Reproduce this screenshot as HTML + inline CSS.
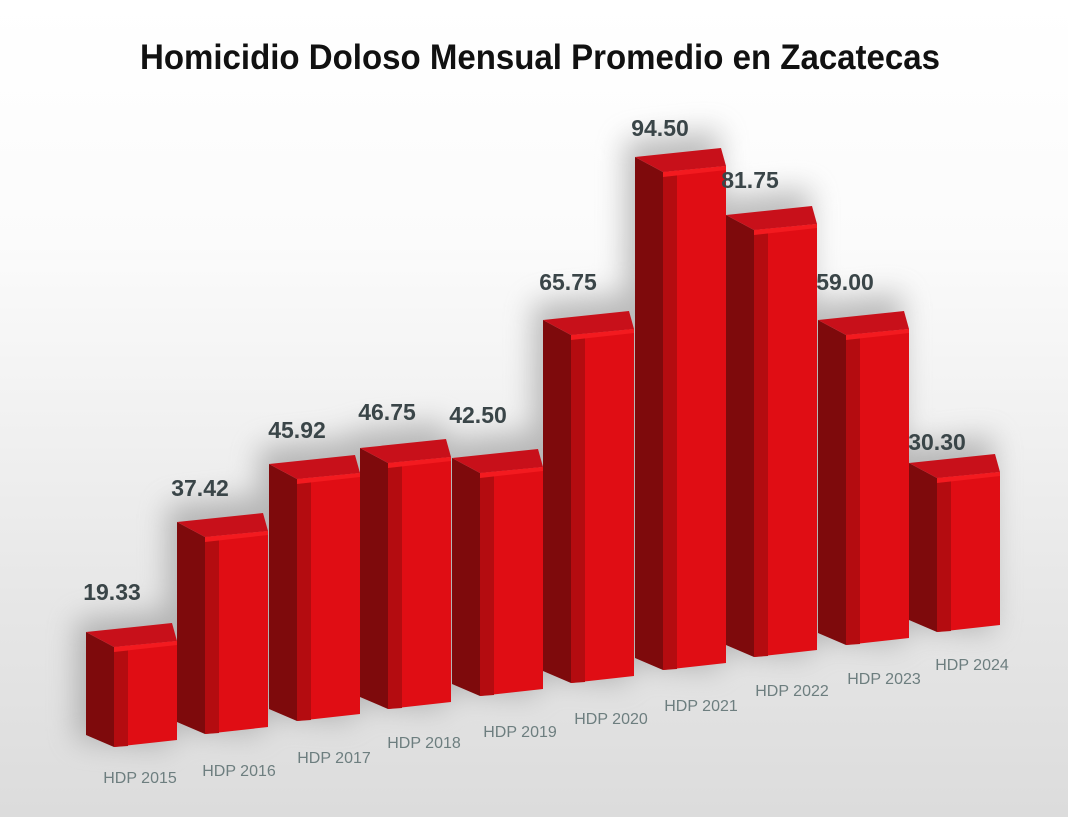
<!DOCTYPE html>
<html><head><meta charset="utf-8"><style>
html,body{margin:0;padding:0}
body{width:1068px;height:817px;overflow:hidden;background:linear-gradient(#ffffff 0%,#fbfbfb 30%,#e6e6e6 75%,#dcdcdc 100%);font-family:"Liberation Sans",sans-serif}
</style></head><body>
<svg width="1068" height="817" viewBox="0 0 1068 817" xmlns="http://www.w3.org/2000/svg">
<defs>
<filter id="bl" x="-50%" y="-50%" width="200%" height="200%"><feGaussianBlur stdDeviation="14"/></filter>
</defs>
<text x="540" y="69" text-anchor="middle" font-family="Liberation Sans, sans-serif" font-weight="bold" font-size="35" fill="#111" textLength="800" lengthAdjust="spacingAndGlyphs">Homicidio Doloso Mensual Promedio en Zacatecas</text>
<g filter="url(#bl)" fill="#8a8a8a" opacity="0.55">
<polygon points="76,620 170,610 170,747 76,740"/>
<polygon points="167,505 261,495 261,734 167,727"/>
<polygon points="259,447 353,437 353,721 259,714"/>
<polygon points="350,431 444,421 444,709 350,702"/>
<polygon points="442,441 536,431 536,696 442,689"/>
<polygon points="533,303 627,293 627,683 533,676"/>
<polygon points="625,140 719,130 719,670 625,663"/>
<polygon points="716,198 810,188 810,657 716,650"/>
<polygon points="808,303 902,293 902,645 808,638"/>
<polygon points="899,446 993,436 993,632 899,625"/>
</g>
<g stroke-linejoin="round">
<g><polygon fill="#7e0a0c" points="86,632 114,647 114,747 86,735"/><polygon fill="#c8101a" points="86,632 114,647 177,641 172,623"/><polygon fill="#e00d14" points="114,647 177,641 177,740 114,747"/><polygon fill="#b40c10" points="114,647 128,646 128,746 114,747"/><polygon fill="#f31a1f" points="114,647 177,641 177,645 114,652"/></g>
<g><polygon fill="#7e0a0c" points="177,522 205,537 205,734 177,722"/><polygon fill="#c8101a" points="177,522 205,537 268,531 263,513"/><polygon fill="#e00d14" points="205,537 268,531 268,727 205,734"/><polygon fill="#b40c10" points="205,537 219,536 219,733 205,734"/><polygon fill="#f31a1f" points="205,537 268,531 268,535 205,542"/></g>
<g><polygon fill="#7e0a0c" points="269,464 297,479 297,721 269,709"/><polygon fill="#c8101a" points="269,464 297,479 360,473 355,455"/><polygon fill="#e00d14" points="297,479 360,473 360,714 297,721"/><polygon fill="#b40c10" points="297,479 311,478 311,720 297,721"/><polygon fill="#f31a1f" points="297,479 360,473 360,477 297,484"/></g>
<g><polygon fill="#7e0a0c" points="360,448 388,463 388,709 360,697"/><polygon fill="#c8101a" points="360,448 388,463 451,457 446,439"/><polygon fill="#e00d14" points="388,463 451,457 451,702 388,709"/><polygon fill="#b40c10" points="388,463 402,462 402,708 388,709"/><polygon fill="#f31a1f" points="388,463 451,457 451,461 388,468"/></g>
<g><polygon fill="#7e0a0c" points="452,458 480,473 480,696 452,684"/><polygon fill="#c8101a" points="452,458 480,473 543,467 538,449"/><polygon fill="#e00d14" points="480,473 543,467 543,689 480,696"/><polygon fill="#b40c10" points="480,473 494,472 494,695 480,696"/><polygon fill="#f31a1f" points="480,473 543,467 543,471 480,478"/></g>
<g><polygon fill="#7e0a0c" points="543,320 571,335 571,683 543,671"/><polygon fill="#c8101a" points="543,320 571,335 634,329 629,311"/><polygon fill="#e00d14" points="571,335 634,329 634,676 571,683"/><polygon fill="#b40c10" points="571,335 585,334 585,682 571,683"/><polygon fill="#f31a1f" points="571,335 634,329 634,333 571,340"/></g>
<g><polygon fill="#7e0a0c" points="635,157 663,172 663,670 635,658"/><polygon fill="#c8101a" points="635,157 663,172 726,166 721,148"/><polygon fill="#e00d14" points="663,172 726,166 726,663 663,670"/><polygon fill="#b40c10" points="663,172 677,171 677,669 663,670"/><polygon fill="#f31a1f" points="663,172 726,166 726,170 663,177"/></g>
<g><polygon fill="#7e0a0c" points="726,215 754,230 754,657 726,645"/><polygon fill="#c8101a" points="726,215 754,230 817,224 812,206"/><polygon fill="#e00d14" points="754,230 817,224 817,650 754,657"/><polygon fill="#b40c10" points="754,230 768,229 768,656 754,657"/><polygon fill="#f31a1f" points="754,230 817,224 817,228 754,235"/></g>
<g><polygon fill="#7e0a0c" points="818,320 846,335 846,645 818,633"/><polygon fill="#c8101a" points="818,320 846,335 909,329 904,311"/><polygon fill="#e00d14" points="846,335 909,329 909,638 846,645"/><polygon fill="#b40c10" points="846,335 860,334 860,644 846,645"/><polygon fill="#f31a1f" points="846,335 909,329 909,333 846,340"/></g>
<g><polygon fill="#7e0a0c" points="909,463 937,478 937,632 909,620"/><polygon fill="#c8101a" points="909,463 937,478 1000,472 995,454"/><polygon fill="#e00d14" points="937,478 1000,472 1000,625 937,632"/><polygon fill="#b40c10" points="937,478 951,477 951,631 937,632"/><polygon fill="#f31a1f" points="937,478 1000,472 1000,476 937,483"/></g>
</g>
<g font-family="Liberation Sans, sans-serif" font-weight="bold" font-size="23" fill="#3a4548" text-anchor="middle">
<text x="112" y="600">19.33</text>
<text x="200" y="496">37.42</text>
<text x="297" y="438">45.92</text>
<text x="387" y="420">46.75</text>
<text x="478" y="423">42.50</text>
<text x="568" y="290">65.75</text>
<text x="660" y="136">94.50</text>
<text x="750" y="188">81.75</text>
<text x="845" y="290">59.00</text>
<text x="937" y="450">30.30</text>
</g>
<g font-family="Liberation Sans, sans-serif" font-size="16" fill="#6d7e7f" text-anchor="middle">
<text x="140" y="783">HDP 2015</text>
<text x="239" y="776">HDP 2016</text>
<text x="334" y="763">HDP 2017</text>
<text x="424" y="748">HDP 2018</text>
<text x="520" y="737">HDP 2019</text>
<text x="611" y="724">HDP 2020</text>
<text x="701" y="711">HDP 2021</text>
<text x="792" y="696">HDP 2022</text>
<text x="884" y="684">HDP 2023</text>
<text x="972" y="670">HDP 2024</text>
</g>
</svg>
</body></html>
